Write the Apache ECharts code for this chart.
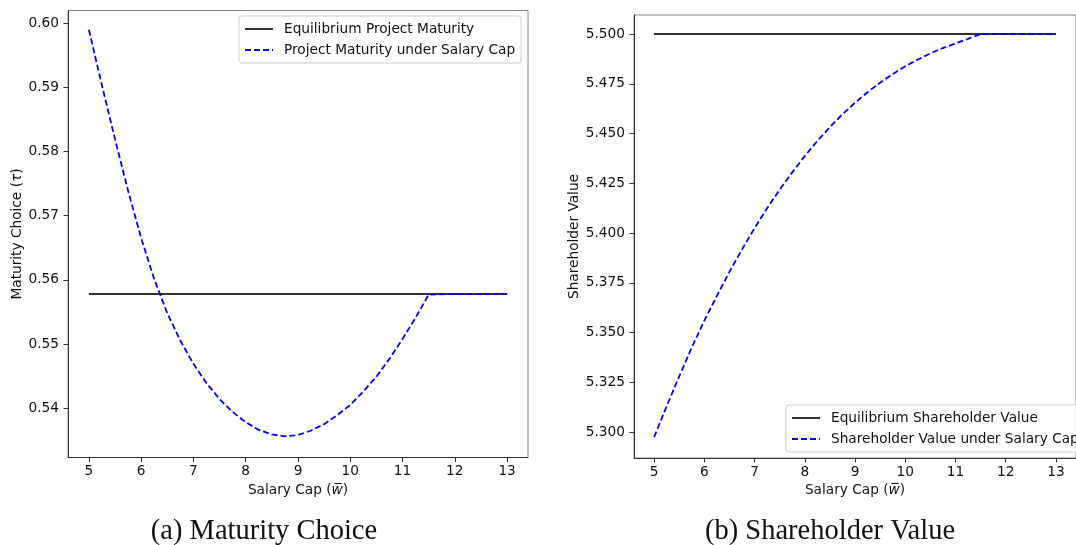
<!DOCTYPE html>
<html>
<head>
<meta charset="utf-8">
<script src="https://cdn.jsdelivr.net/npm/echarts@6/dist/echarts.min.js"></script>
<style>
html,body{margin:0;padding:0;background:#fff;}
#chart{width:1076px;height:545px;}
</style>
</head>
<body>
<div id="chart"></div>
<script>
// Salary cap grid (x values)
const salaryCap = [5, 5.25, 5.5, 5.75, 6, 6.25, 6.5, 6.75, 7, 7.25, 7.5, 7.75, 8, 8.25, 8.5, 8.75, 9, 9.25, 9.5, 9.75, 10, 10.25, 10.5, 10.75, 11, 11.25, 11.5, 12, 12.5, 13];
// Panel (a): project maturity under salary cap
const maturityCapped = [0.5990, 0.5903, 0.5819, 0.5739, 0.5665, 0.5601, 0.5548, 0.5505, 0.5469, 0.5439, 0.5414, 0.5394, 0.5378, 0.5366, 0.5359, 0.5356, 0.5358, 0.5365, 0.5375, 0.5389, 0.5405, 0.5426, 0.5449, 0.5477, 0.5508, 0.5541, 0.5577, 0.5578, 0.5578, 0.5578];
const maturityEquilibrium = 0.5578;
// Panel (b): shareholder value under salary cap
const valueCapped = [5.2975, 5.3130, 5.3280, 5.3425, 5.3560, 5.3685, 5.3805, 5.3918, 5.4025, 5.4125, 5.4218, 5.4305, 5.4387, 5.4463, 5.4533, 5.4597, 5.4655, 5.4708, 5.4756, 5.4799, 5.4838, 5.4872, 5.4903, 5.4930, 5.4953, 5.4976, 5.5000, 5.5000, 5.5000, 5.5000];
const valueEquilibrium = 5.5;
const eqRange = [5, 13];
// Tick labels
const xTicks = [5, 6, 7, 8, 9, 10, 11, 12, 13];
const maturityTicks = [0.54, 0.55, 0.56, 0.57, 0.58, 0.59, 0.60];
const valueTicks = [5.300, 5.325, 5.350, 5.375, 5.400, 5.425, 5.450, 5.475, 5.500];

const FONT = 'DejaVu Sans';
const FS = 13.7;
const TXT = '#111';
const AX = '#333';

function xAxisCfg(gridIndex) {
  return {
    type: 'value', gridIndex: gridIndex, min: 4.6, max: 13.4,
    name: 'Salary Cap ({it|w\u0305})', nameLocation: 'middle', nameGap: 24,
    nameTextStyle: {fontFamily: FONT, fontSize: FS, color: TXT,
      rich: {it: {fontFamily: FONT, fontSize: FS, fontStyle: 'italic', color: TXT}}},
    axisLine: {show: true, onZero: false, lineStyle: {color: AX, width: 1}},
    axisTick: {show: true, inside: false, length: 4.5, customValues: xTicks, lineStyle: {color: AX, width: 1}},
    axisLabel: {customValues: xTicks, margin: 7, fontFamily: FONT, fontSize: FS, color: TXT,
      formatter: v => String(Math.round(v))},
    splitLine: {show: false}
  };
}
function yAxisCfg(gridIndex, min, max, ticks, dec, name, gap) {
  return {
    type: 'value', gridIndex: gridIndex, min: min, max: max,
    name: name, nameLocation: 'middle', nameGap: gap, nameRotate: 90,
    nameTextStyle: {fontFamily: FONT, fontSize: FS, color: TXT,
      rich: {it: {fontFamily: FONT, fontSize: FS, fontStyle: 'italic', color: TXT}}},
    axisLine: {show: true, onZero: false, lineStyle: {color: AX, width: 1}},
    axisTick: {show: true, inside: false, length: 4.5, customValues: ticks, lineStyle: {color: AX, width: 1}},
    axisLabel: {customValues: ticks, margin: 9, fontFamily: FONT, fontSize: FS, color: TXT,
      formatter: v => v.toFixed(dec)},
    splitLine: {show: false}
  };
}
const legendBase = {
  orient: 'vertical', itemWidth: 28, itemHeight: 14, itemGap: 7,
  padding: [6, 6, 6, 5], backgroundColor: 'rgba(255,255,255,0.8)',
  borderColor: '#cccccc', borderWidth: 1, borderRadius: 3, selectedMode: false,
  itemStyle: {opacity: 0, color: 'transparent', borderWidth: 0},
  textStyle: {fontFamily: FONT, fontSize: FS, color: TXT, padding: [0, 0, 0, 6]}
};
const solid = {color: '#333', width: 2, type: 'solid'};
const dashed = {color: '#0000ff', width: 1.8, type: [6, 3]};

const chart = echarts.init(document.getElementById('chart'), null, {renderer: 'canvas'});
chart.setOption({
  animation: false,
  backgroundColor: '#ffffff',
  title: [
    {text: '(a) Maturity Choice', left: 264, top: 517, textAlign: 'center', padding: 0,
      textStyle: {fontFamily: 'Liberation Serif', fontSize: 28.5, fontWeight: 'normal', color: '#111'}},
    {text: '(b) Shareholder Value', left: 830, top: 517, textAlign: 'center', padding: 0,
      textStyle: {fontFamily: 'Liberation Serif', fontSize: 28.5, fontWeight: 'normal', color: '#111'}}
  ],
  grid: [
    {left: 68, top: 10.5, width: 460, height: 447, show: true, borderColor: '#888', borderWidth: 1, backgroundColor: 'transparent'},
    {left: 634, top: 15, width: 455, height: 443, show: true, borderColor: '#888', borderWidth: 1, backgroundColor: 'transparent'}
  ],
  xAxis: [xAxisCfg(0), xAxisCfg(1)],
  yAxis: [
    yAxisCfg(0, 0.5323, 0.6020, maturityTicks, 2, 'Maturity Choice ({it|\u03c4})', 40),
    yAxisCfg(1, 5.2870, 5.5096, valueTicks, 3, 'Shareholder Value', 48)
  ],
  legend: [
    Object.assign({}, legendBase, {left: 239, top: 16,
      data: ['Equilibrium Project Maturity', 'Project Maturity under Salary Cap']}),
    Object.assign({}, legendBase, {left: 786, top: 405,
      data: ['Equilibrium Shareholder Value', 'Shareholder Value under Salary Cap']})
  ],
  series: [
    {name: 'Equilibrium Project Maturity', type: 'line', xAxisIndex: 0, yAxisIndex: 0, symbol: 'none',
      itemStyle: {color: solid.color}, lineStyle: solid,
      data: eqRange.map(x => [x, maturityEquilibrium])},
    {name: 'Project Maturity under Salary Cap', type: 'line', xAxisIndex: 0, yAxisIndex: 0, symbol: 'none', smooth: false,
      itemStyle: {color: dashed.color}, lineStyle: dashed,
      data: salaryCap.map((x, i) => [x, maturityCapped[i]])},
    {name: 'Equilibrium Shareholder Value', type: 'line', xAxisIndex: 1, yAxisIndex: 1, symbol: 'none',
      itemStyle: {color: solid.color}, lineStyle: solid,
      data: eqRange.map(x => [x, valueEquilibrium])},
    {name: 'Shareholder Value under Salary Cap', type: 'line', xAxisIndex: 1, yAxisIndex: 1, symbol: 'none', smooth: false,
      itemStyle: {color: dashed.color}, lineStyle: dashed,
      data: salaryCap.map((x, i) => [x, valueCapped[i]])}
  ]
});
</script>
</body>
</html>
